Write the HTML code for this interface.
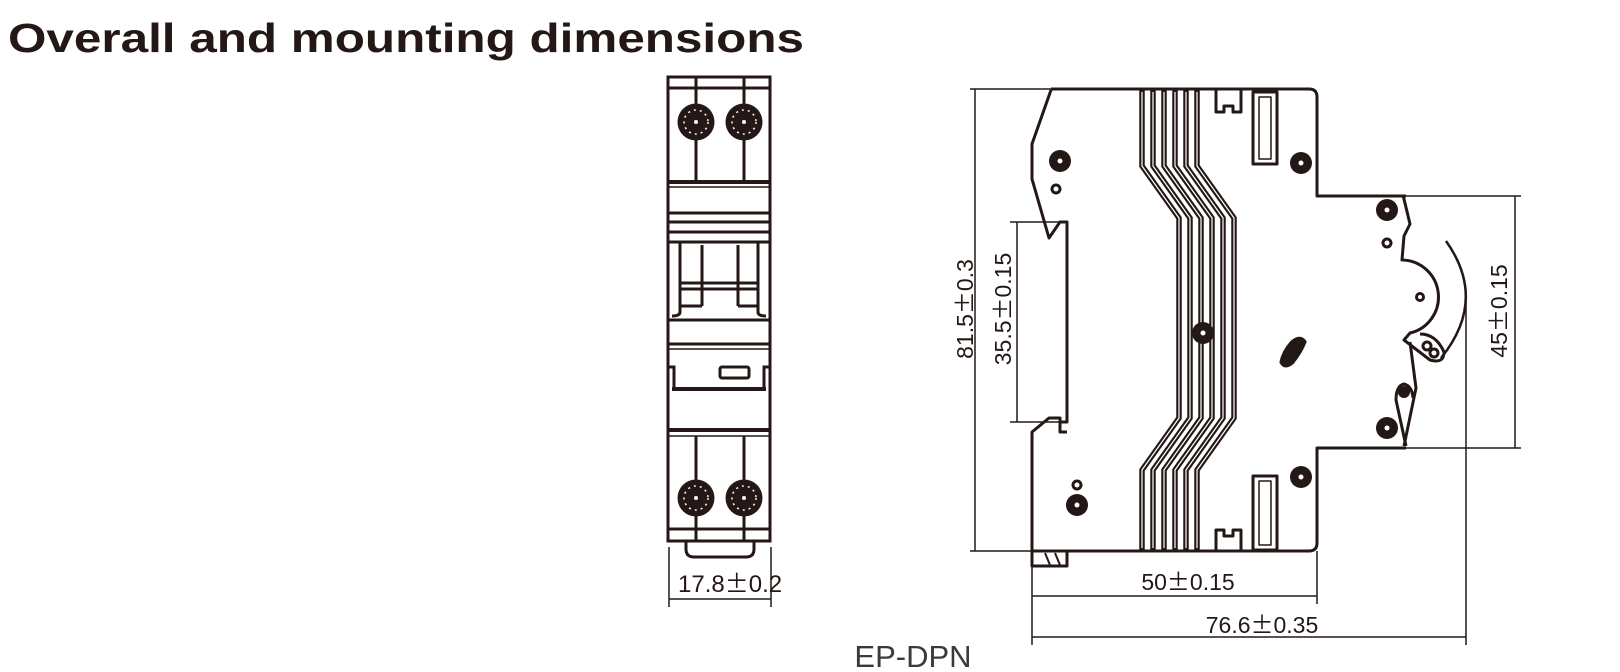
<!DOCTYPE html>
<html><head><meta charset="utf-8"><style>
html,body{margin:0;padding:0;background:#fff;width:1620px;height:672px;overflow:hidden}
svg{display:block}
.pm{font-family:"Noto Sans CJK SC",sans-serif}
</style></head><body>
<svg width="1620" height="672" viewBox="0 0 1620 672" xmlns="http://www.w3.org/2000/svg" font-family="Liberation Sans, sans-serif">
<text x="8" y="52" font-size="41" font-weight="bold" fill="#231815" textLength="796" lengthAdjust="spacingAndGlyphs">Overall and mounting dimensions</text>

<!-- LEFT FRONT VIEW -->
<g stroke="#231815" fill="none" stroke-width="3">
  <rect x="668" y="77" width="102" height="464"/>
  <line x1="668" y1="88" x2="770" y2="88"/>
  <line x1="696" y1="77" x2="696" y2="182"/>
  <line x1="744" y1="77" x2="744" y2="182"/>
  <line x1="668" y1="182" x2="770" y2="182" stroke-width="4"/>
  <line x1="668" y1="187" x2="770" y2="187" stroke-width="1.5"/>
  <line x1="668" y1="213" x2="770" y2="213"/>
  <line x1="668" y1="222" x2="770" y2="222"/>
  <line x1="668" y1="232" x2="770" y2="232"/>
  <path d="M668 242 H770"/>
  <path d="M680 242 V312 q0 4 -8 4 M758 242 V312 q0 4 8 4"/>
  <line x1="702" y1="245" x2="702" y2="306"/>
  <line x1="738" y1="245" x2="738" y2="306"/>
  <path d="M680 306 H702 M738 306 H758"/>
  <line x1="680" y1="283" x2="758" y2="283"/>
  <line x1="680" y1="289" x2="758" y2="289"/>
  <line x1="668" y1="320" x2="770" y2="320"/>
  <line x1="668" y1="344" x2="770" y2="344"/>
  <line x1="668" y1="349" x2="770" y2="349" stroke-width="1.5"/>
  <path d="M668 367 h6 v22 M770 367 h-6 v22"/>
  <rect x="720" y="367" width="29" height="11" rx="2"/>
  <line x1="672" y1="389" x2="766" y2="389" stroke-width="4"/>
  <line x1="668" y1="430" x2="770" y2="430" stroke-width="4"/>
  <line x1="668" y1="436" x2="770" y2="436" stroke-width="1.5"/>
  <line x1="696" y1="436" x2="696" y2="541"/>
  <line x1="744" y1="436" x2="744" y2="541"/>
  <line x1="668" y1="529" x2="770" y2="529"/>
  <path d="M686 541 v8 q0 8 8 8 h52 q8 0 8 -8 v-8"/>
</g>
<g fill="#231815">
  <circle cx="696" cy="122" r="18.5"/><circle cx="744" cy="122" r="18.5"/>
  <circle cx="696" cy="498" r="18.5"/><circle cx="744" cy="498" r="18.5"/>
</g>
<g fill="#fff">
  <circle cx="696" cy="122" r="2"/><circle cx="744" cy="122" r="2"/>
  <circle cx="696" cy="498" r="2"/><circle cx="744" cy="498" r="2"/>
</g>
<g stroke="#fff" stroke-width="1.5" stroke-dasharray="2 4" fill="none">
  <circle cx="696" cy="122" r="12"/><circle cx="744" cy="122" r="12"/>
  <circle cx="696" cy="498" r="12"/><circle cx="744" cy="498" r="12"/>
</g>
<g stroke="#231815" stroke-width="1.5" fill="none">
  <line x1="669" y1="547" x2="669" y2="607"/>
  <line x1="771" y1="547" x2="771" y2="607"/>
  <line x1="669" y1="599" x2="771" y2="599"/>
</g>
<text x="678" y="592" font-size="24" fill="#231815">17.8<tspan class="pm">±</tspan>0.2</text>

<text x="913" y="667" font-size="31" fill="#3a3a3a" text-anchor="middle">EP-DPN</text>

<!-- RIGHT SIDE VIEW -->
<g stroke="#231815" fill="none" stroke-width="3" stroke-linejoin="round">
  <path d="M1051 90 L1032 144 L1032 179 L1049 238 L1060 222 L1067 222 V422 H1060"/>
  <path d="M1051 89 H1309 q8 0 8 8 V196 H1406"/>
  <path d="M1406 448 H1317 V543 q0 8 -8 8 H1032 V566 H1067 V551"/>
  <path d="M1032 551 V432 L1049 418 H1060 V432 H1067"/>
  <path d="M1045 553 l5 12 M1055 553 l5 12" stroke-width="2"/>
  <rect x="1253" y="92" width="24" height="72"/>
  <rect x="1259" y="97" width="12" height="62" stroke-width="1.5"/>
  <rect x="1253" y="476" width="24" height="74"/>
  <rect x="1259" y="481" width="12" height="64" stroke-width="1.5"/>
  <path d="M1216 90 V112 H1224 V106 H1233 V112 H1241 V90"/>
  <path d="M1216 551 V530 H1224 V536 H1233 V530 H1241 V551"/>
  <path d="M1403 195 L1410 224 L1404 236 L1402 260 A37 37 0 0 1 1410 333 L1404 340 L1430 360 Q1444 364 1444 352 Q1436 334 1420 334"/>
  <path d="M1410 342 L1416 388 L1404 446"/>
  <path d="M1406 446 L1396 400 Q1396 386 1404 384 Q1412 386 1413 398"/>
  <path d="M1446 241 Q1488 300 1441 358" stroke-width="2.5"/>
</g>
<!-- ribbons -->
<g stroke="#231815" fill="none" stroke-width="5.5">
  <path d="M1142 89 V166 L1179 218 V418 L1142 470 V551"/>
  <path d="M1153 89 V166 L1190 218 V418 L1153 470 V551"/>
  <path d="M1164 89 V166 L1201 218 V418 L1164 470 V551"/>
  <path d="M1175 89 V166 L1212 218 V418 L1175 470 V551"/>
  <path d="M1186 89 V166 L1223 218 V418 L1186 470 V551"/>
  <path d="M1197 89 V166 L1234 218 V418 L1197 470 V551"/>
</g>
<g stroke="#fff" fill="none" stroke-width="1.2">
  <path d="M1142 92 V166 L1179 218 V418 L1142 470 V548"/>
  <path d="M1153 92 V166 L1190 218 V418 L1153 470 V548"/>
  <path d="M1164 92 V166 L1201 218 V418 L1164 470 V548"/>
  <path d="M1175 92 V166 L1212 218 V418 L1175 470 V548"/>
  <path d="M1186 92 V166 L1223 218 V418 L1186 470 V548"/>
  <path d="M1197 92 V166 L1234 218 V418 L1197 470 V548"/>
</g>
<g fill="#231815">
  <circle cx="1060" cy="161" r="11"/><circle cx="1301" cy="163" r="11"/>
  <circle cx="1203" cy="333" r="11"/><circle cx="1301" cy="477" r="11"/>
  <circle cx="1077" cy="505" r="11"/><circle cx="1387" cy="210" r="11"/>
  <circle cx="1387" cy="428" r="11"/><circle cx="1404" cy="392" r="6"/>
  <path d="M1292 343 Q1300 336 1304 342 Q1300 352 1292 362 Q1285 368 1282 362 Q1284 352 1292 343Z" stroke="#231815" stroke-width="5"/>
</g>
<g fill="#fff">
  <circle cx="1060" cy="161" r="2.5"/><circle cx="1301" cy="163" r="2.5"/>
  <circle cx="1203" cy="333" r="2.5"/><circle cx="1301" cy="477" r="2.5"/>
  <circle cx="1077" cy="505" r="2.5"/><circle cx="1387" cy="210" r="2.5"/>
  <circle cx="1387" cy="428" r="2.5"/>
</g>
<g fill="none" stroke="#231815" stroke-width="3">
  <circle cx="1056" cy="189" r="4"/><circle cx="1077" cy="485" r="4"/>
  <circle cx="1387" cy="243" r="4"/><circle cx="1420" cy="297" r="3.5"/>
  <circle cx="1427" cy="346" r="4"/><circle cx="1434" cy="353" r="4"/>
</g>
<!-- dimensions -->
<g stroke="#231815" stroke-width="1.5" fill="none">
  <line x1="970" y1="89" x2="1051" y2="89"/>
  <line x1="970" y1="551" x2="1032" y2="551"/>
  <line x1="975" y1="89" x2="975" y2="551"/>
  <line x1="1010" y1="222" x2="1060" y2="222"/>
  <line x1="1010" y1="422" x2="1060" y2="422"/>
  <line x1="1017" y1="222" x2="1017" y2="422"/>
  <line x1="1406" y1="196" x2="1521" y2="196"/>
  <line x1="1406" y1="448" x2="1521" y2="448"/>
  <line x1="1515" y1="196" x2="1515" y2="448"/>
  <line x1="1032" y1="566" x2="1032" y2="645"/>
  <line x1="1317" y1="551" x2="1317" y2="604"/>
  <line x1="1032" y1="596" x2="1317" y2="596"/>
  <line x1="1466" y1="300" x2="1466" y2="645"/>
  <line x1="1032" y1="637" x2="1466" y2="637"/>
</g>
<g font-size="23" fill="#231815" text-anchor="middle">
  <text x="1188" y="590">50<tspan class="pm">±</tspan>0.15</text>
  <text x="1262" y="633">76.6<tspan class="pm">±</tspan>0.35</text>
  <text transform="translate(973,309) rotate(-90)">81.5<tspan class="pm">±</tspan>0.3</text>
  <text transform="translate(1011,309) rotate(-90)">35.5<tspan class="pm">±</tspan>0.15</text>
  <text transform="translate(1507,311) rotate(-90)">45<tspan class="pm">±</tspan>0.15</text>
</g>
</svg>
</body></html>
